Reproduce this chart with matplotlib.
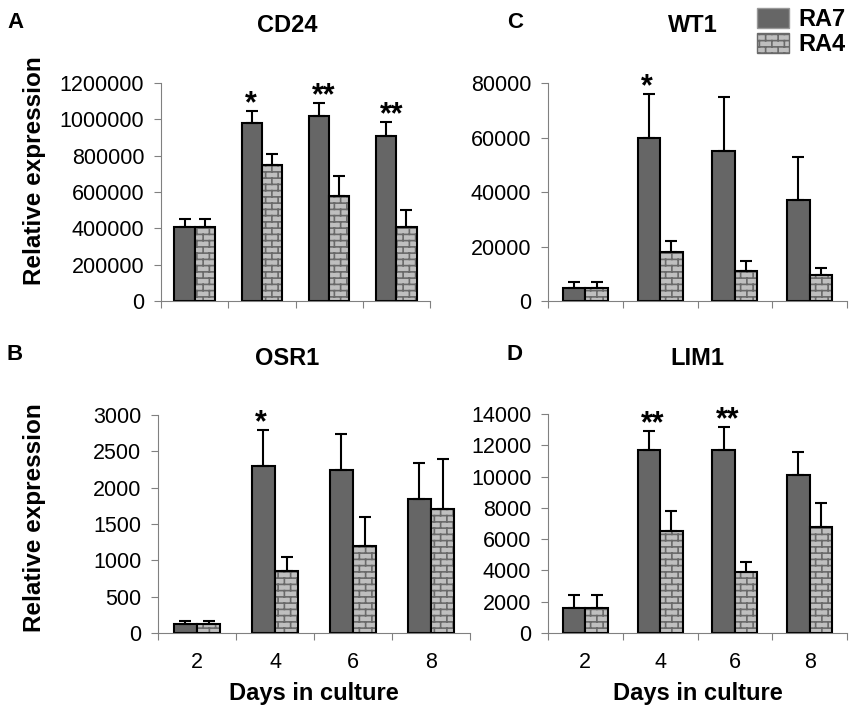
import warnings
import numpy as np
import matplotlib
matplotlib.use('Agg')
from matplotlib import pyplot as plt
from matplotlib import hatch as mhatch
from matplotlib import patches
from matplotlib.path import Path
from matplotlib.ticker import StrMethodFormatter

warnings.filterwarnings('ignore')

days = ['2', '4', '6', '8']

cd24_ra7 = [410000, 978000, 1018000, 908000]
cd24_ra7_err = [40000, 68000, 70000, 76000]
cd24_ra4 = [410000, 749000, 580000, 410000]
cd24_ra4_err = [40000, 60000, 110000, 91000]
cd24_stars = ['', '*', '**', '**']

wt1_ra7 = [4600, 60000, 55000, 37000]
wt1_ra7_err = [2500, 16000, 20000, 16000]
wt1_ra4 = [4600, 18000, 11000, 9400]
wt1_ra4_err = [2500, 4000, 3700, 2700]
wt1_stars = ['', '*', '', '']

osr1_ra7 = [130, 2300, 2250, 1850]
osr1_ra7_err = [40, 500, 490, 490]
osr1_ra4 = [130, 860, 1200, 1700]
osr1_ra4_err = [40, 190, 400, 700]
osr1_stars = ['', '*', '', '']

lim1_ra7 = [1600, 11700, 11700, 10100]
lim1_ra7_err = [800, 1200, 1450, 1500]
lim1_ra4 = [1600, 6500, 3900, 6800]
lim1_ra4_err = [800, 1300, 650, 1500]
lim1_stars = ['', '**', '**', '']

DARK = '#666666'
BRICK = '#bfbfbf'
MORTAR = '#6a6a6a'
AXCOL = '#808080'


# brick pattern for the RA4 bars, used as hatch 'b'
class BrickHatch(mhatch.HatchPatternBase):
    def __init__(self, hatch, density):
        self.rows = 16 if 'b' in hatch else 0
        self.cols = 8
        self.num_vertices = self.rows * 2 + (self.rows + 1) * self.cols * 2

    def set_vertices_and_codes(self, vertices, codes):
        k = 0
        for r in range(self.rows):
            y = (r + 0.5) / self.rows
            vertices[k] = (0.0, y)
            vertices[k + 1] = (1.0, y)
            k += 2
        for r in range(self.rows + 1):
            for c in range(self.cols):
                x = (c + 0.25 + 0.5 * (r % 2)) / self.cols
                vertices[k] = (x, (r - 0.5) / self.rows)
                vertices[k + 1] = (x, (r + 0.5) / self.rows)
                k += 2
        codes[0::2] = Path.MOVETO
        codes[1::2] = Path.LINETO


mhatch._hatch_types.append(BrickHatch)

plt.rcParams['font.family'] = ['Liberation Sans', 'DejaVu Sans']
plt.rcParams['hatch.linewidth'] = 1.2


def plot_panel(ax, ra7, ra7_err, ra4, ra4_err, stars, ymax, ystep, show_x):
    x = np.arange(len(days)) + 0.5
    w = 0.3
    zeros = np.zeros(len(days))
    ax.bar(x - w / 2, ra7, w, color=DARK, edgecolor='black', linewidth=1.5, zorder=2)
    ax.bar(x + w / 2, ra4, w, color=BRICK, edgecolor=MORTAR, hatch='b', linewidth=0, zorder=2)
    ax.bar(x + w / 2, ra4, w, fill=False, edgecolor='black', linewidth=1.5, zorder=3)
    ax.errorbar(x - w / 2, ra7, yerr=[zeros, ra7_err], fmt='none', ecolor='black',
                elinewidth=1.5, capsize=4.5, capthick=1.5, zorder=4)
    ax.errorbar(x + w / 2, ra4, yerr=[zeros, ra4_err], fmt='none', ecolor='black',
                elinewidth=1.5, capsize=4.5, capthick=1.5, zorder=4)
    for i, s in enumerate(stars):
        if s:
            ax.annotate(s, xy=(x[i] - w, ra7[i] + ra7_err[i]), xytext=(2.5, -1),
                        textcoords='offset points', ha='left', va='baseline',
                        fontsize=22, fontweight='bold', annotation_clip=False)

    ax.set_xlim(0, 4)
    ax.set_ylim(0, ymax)
    ax.set_yticks(np.arange(0, ymax + 1, ystep))
    ax.yaxis.set_major_formatter(StrMethodFormatter('{x:.0f}'))
    ax.set_xticks([0, 1, 2, 3, 4])
    ax.set_xticklabels([])
    ax.set_xticks(x, minor=True)
    ax.set_xticklabels(days if show_x else [], minor=True)
    for side in ['top', 'right']:
        ax.spines[side].set_visible(False)
    for side in ['left', 'bottom']:
        ax.spines[side].set_color(AXCOL)
        ax.spines[side].set_linewidth(0.8)
    ax.tick_params(axis='both', which='major', direction='out', length=5, width=0.8,
                   color=AXCOL, labelsize=15.5)
    ax.tick_params(axis='y', pad=7)
    ax.tick_params(axis='x', which='minor', length=0, pad=14, labelsize=15.5)
    if show_x:
        ax.set_xlabel('Days in culture', fontsize=17, fontweight='bold')
        ax.xaxis.set_label_coords(0.5, -0.225)


fig = plt.figure(figsize=(8.58, 7.17), dpi=100)
H = 717.0
W = 858.0

ax_a = fig.add_axes([161 / W, 1 - 301 / H, 269 / W, 218 / H])
ax_c = fig.add_axes([548 / W, 1 - 301 / H, 299 / W, 218 / H])
ax_b = fig.add_axes([158 / W, 1 - 633 / H, 312 / W, 218 / H])
ax_d = fig.add_axes([548 / W, 1 - 633 / H, 299 / W, 219 / H])

plot_panel(ax_a, cd24_ra7, cd24_ra7_err, cd24_ra4, cd24_ra4_err, cd24_stars, 1200000, 200000, False)
plot_panel(ax_c, wt1_ra7, wt1_ra7_err, wt1_ra4, wt1_ra4_err, wt1_stars, 80000, 20000, False)
plot_panel(ax_b, osr1_ra7, osr1_ra7_err, osr1_ra4, osr1_ra4_err, osr1_stars, 3000, 500, True)
plot_panel(ax_d, lim1_ra7, lim1_ra7_err, lim1_ra4, lim1_ra4_err, lim1_stars, 14000, 2000, True)

ax_a.set_ylabel('Relative expression', fontsize=17.5, fontweight='bold')
ax_a.yaxis.set_label_coords(-0.428, 0.60)
ax_b.set_ylabel('Relative expression', fontsize=17.5, fontweight='bold')
ax_b.yaxis.set_label_coords(-0.359, 0.53)

titles = [('CD24', 287, 25), ('WT1', 693, 25), ('OSR1', 287, 358), ('LIM1', 697, 358)]
for t, px, py in titles:
    fig.text(px / W, 1 - py / H, t, ha='center', va='center', fontsize=17, fontweight='bold')

letters = [('A', 15, 22), ('C', 515, 22), ('B', 15, 355), ('D', 515, 355)]
for t, px, py in letters:
    fig.text(px / W, 1 - py / H, t, ha='center', va='center', fontsize=16, fontweight='bold')

h1 = patches.Patch(facecolor=DARK, edgecolor='#999999', label='RA7')
h2 = patches.Patch(facecolor=BRICK, edgecolor=MORTAR, hatch='b', label='RA4')
fig.legend(handles=[h1, h2], loc='upper left', bbox_to_anchor=(757 / W, 1 - 8 / H),
           frameon=False, borderpad=0, borderaxespad=0, handlelength=1.36,
           handleheight=0.9, labelspacing=0.1, handletextpad=0.4,
           prop={'size': 17, 'weight': 'bold'})

plt.savefig('out.png', dpi=100)
